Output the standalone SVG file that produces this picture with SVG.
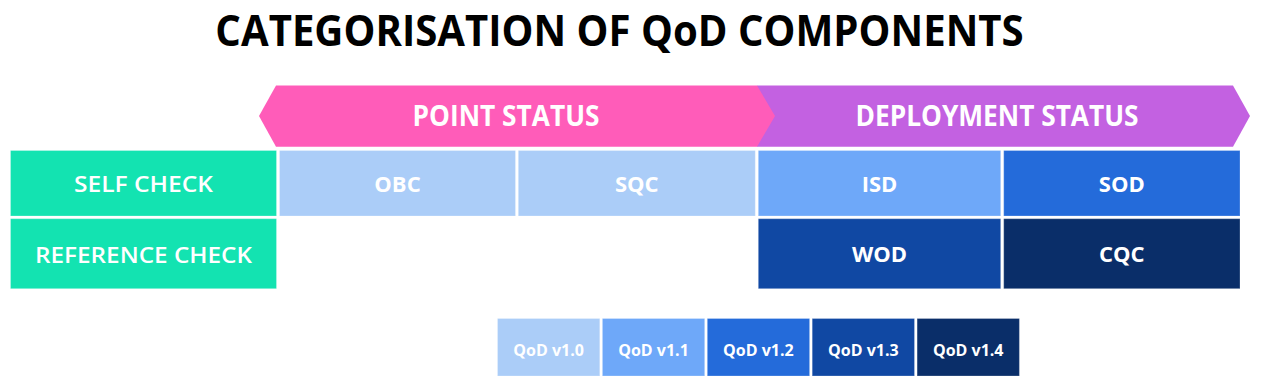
<svg xmlns="http://www.w3.org/2000/svg" width="1274" height="386" viewBox="0 0 1274 386">
<style>
.t{font-family:"Open Sans","Noto Sans","Liberation Sans",sans-serif;font-weight:700;fill:#ffffff;text-anchor:middle}
.title{font-family:"Open Sans","Noto Sans","Liberation Sans",sans-serif;font-weight:700;fill:#000000;font-size:43px;text-anchor:middle}
.lbl{font-size:22px}
.row{font-size:22px;font-weight:600}
.ban{font-size:28px;font-weight:700}
.ver{font-size:16px;font-weight:700}
.c{stroke:#ffffff;stroke-opacity:0.25;stroke-width:1}
.g{fill:#13E3B1}
.b0{fill:#ABCDF8}
.b1{fill:#6EA8F9}
.b2{fill:#246BDA}
.b3{fill:#1048A3}
.b4{fill:#0A2E69}
</style>
<rect width="1274" height="386" fill="#ffffff"/>
<text class="title" transform="scale(0.934,1)" x="663.3" y="46.5">CATEGORISATION OF QoD COMPONENTS</text>

<g id="deployment-status">
<polygon points="757,85.5 1233,85.5 1250,116 1233,146.7 757,146.7" fill="#C361E1"/>
<text class="t ban" x="997" y="126" textLength="283" lengthAdjust="spacingAndGlyphs">DEPLOYMENT STATUS</text>
</g>
<g id="point-status">
<polygon points="259,116 276,85.5 757,85.5 775,116 757,146.7 276,146.7" fill="#FF5CB9"/>
<text class="t ban" x="506" y="126" textLength="187" lengthAdjust="spacingAndGlyphs">POINT STATUS</text>
</g>

<g id="self-check">
<rect class="c g" x="10.5" y="150.5" width="266" height="65.5"/>
<text class="t row" x="143.5" y="192" textLength="139" lengthAdjust="spacingAndGlyphs">SELF CHECK</text>
</g>
<g id="reference-check">
<rect class="c g" x="10.5" y="218.7" width="266" height="70"/>
<text class="t row" x="143.5" y="263" textLength="217" lengthAdjust="spacingAndGlyphs">REFERENCE CHECK</text>
</g>
<g id="obc">
<rect class="c b0" x="279.5" y="150.5" width="236" height="65.5"/>
<text class="t lbl" x="397.5" y="192">OBC</text>
</g>
<g id="sqc">
<rect class="c b0" x="518.3" y="150.5" width="237" height="65.5"/>
<text class="t lbl" x="636.8" y="192">SQC</text>
</g>
<g id="isd">
<rect class="c b1" x="758.3" y="150.5" width="242.4" height="65.5"/>
<text class="t lbl" x="879.5" y="192">ISD</text>
</g>
<g id="sod">
<rect class="c b2" x="1003.7" y="150.5" width="236.3" height="65.5"/>
<text class="t lbl" x="1121.8" y="192">SOD</text>
</g>
<g id="wod">
<rect class="c b3" x="758.3" y="218.7" width="242.4" height="70"/>
<text class="t lbl" x="879.5" y="262">WOD</text>
</g>
<g id="cqc">
<rect class="c b4" x="1003.7" y="218.7" width="236.3" height="70"/>
<text class="t lbl" x="1121.8" y="262">CQC</text>
</g>

<g id="v10">
<rect class="c b0" x="497.5" y="318.5" width="102.3" height="57.5"/>
<text class="t ver" x="548.6" y="355.5">QoD v1.0</text>
</g>
<g id="v11">
<rect class="c b1" x="602.4" y="318.5" width="102.3" height="57.5"/>
<text class="t ver" x="653.5" y="355.5">QoD v1.1</text>
</g>
<g id="v12">
<rect class="c b2" x="707.3" y="318.5" width="102.3" height="57.5"/>
<text class="t ver" x="758.4" y="355.5">QoD v1.2</text>
</g>
<g id="v13">
<rect class="c b3" x="812.2" y="318.5" width="102.3" height="57.5"/>
<text class="t ver" x="863.3" y="355.5">QoD v1.3</text>
</g>
<g id="v14">
<rect class="c b4" x="917.1" y="318.5" width="102.3" height="57.5"/>
<text class="t ver" x="968.2" y="355.5">QoD v1.4</text>
</g>
<g id="connectors"></g>
</svg>
